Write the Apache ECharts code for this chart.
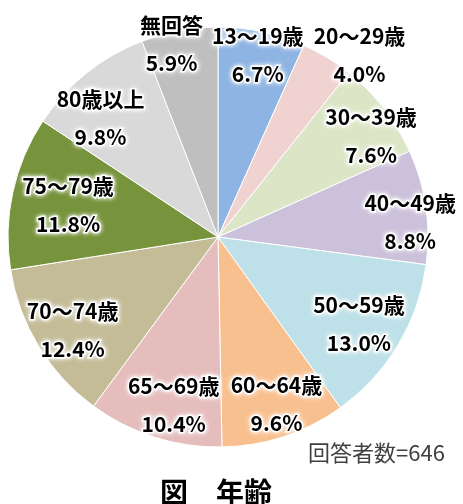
<!DOCTYPE html>
<html>
<head>
<meta charset="utf-8">
<script src="https://cdn.jsdelivr.net/npm/echarts@6/dist/echarts.min.js"></script>
<style>
  html, body { margin: 0; padding: 0; background: #fff; }
  #chart { width: 463px; height: 504px; }
</style>
</head>
<body>
<div id="chart"></div>
<script>
var ageGroups = ['13～19歳', '20～29歳', '30～39歳', '40～49歳', '50～59歳', '60～64歳',
                 '65～69歳', '70～74歳', '75～79歳', '80歳以上', '無回答'];
var shares = [6.7, 4.0, 7.6, 8.8, 13.0, 9.6, 10.4, 12.4, 11.8, 9.8, 5.9];
var sliceColors = ['#8EB4E3', '#F0D2D1', '#DCE6C6', '#CCC1DA', '#BEE0E8', '#F9C08F',
                   '#E6BDBD', '#C4BC97', '#77933C', '#D9D9D9', '#BFBFBF'];
var respondents = 646;

// hand nudges of the labels (px), same order as ageGroups
var labelNudge = [[3, -10], [50, -32], [14, 7], [18, 10], [-10, -4], [3, 0],
                  [9, 0], [5, 2], [22, 5], [-7, 18], [-14, -20]];

var fontCJK = '"Noto Sans CJK JP", "Noto Sans", sans-serif';

var chart = echarts.init(document.getElementById('chart'));

var sliceData = ageGroups.map(function (name, i) {
    return { name: name, value: shares[i], itemStyle: { color: sliceColors[i] } };
});
var labelData = ageGroups.map(function (name, i) {
    return { name: name, value: shares[i] };
});

var option = {
    animation: false,
    title: [
        {
            text: '図　年齢',
            left: 155,
            top: 473,
            textStyle: { fontFamily: fontCJK, fontSize: 28, fontWeight: 'bold', color: '#000' }
        },
        {
            text: '回答者数=' + respondents,
            left: 303,
            top: 437,
            textStyle: { fontFamily: fontCJK, fontSize: 22, fontWeight: 'normal', color: '#404040' }
        }
    ],
    series: [
        {
            type: 'pie',
            center: [218, 237],
            radius: [0, 210],
            startAngle: 90,
            clockwise: true,
            silent: true,
            label: { show: false },
            labelLine: { show: false },
            itemStyle: { borderColor: '#fff', borderWidth: 1 },
            data: sliceData
        },
        {
            // transparent ring: only carries the labels near the rim
            type: 'pie',
            center: [218, 237],
            radius: [136, 210],
            startAngle: 90,
            clockwise: true,
            silent: true,
            avoidLabelOverlap: false,
            itemStyle: { color: 'rgba(0,0,0,0)' },
            labelLine: { show: false },
            label: {
                show: true,
                position: 'inside',
                formatter: function (p) {
                    return p.name + '\n' + p.value.toFixed(1) + '%';
                },
                fontFamily: fontCJK,
                fontSize: 21,
                fontWeight: 'bold',
                lineHeight: 38,
                color: '#000',
                textBorderColor: '#fff',
                textBorderWidth: 3,
                textShadowColor: '#fff',
                textShadowBlur: 5
            },
            labelLayout: function (p) {
                var n = labelNudge[p.dataIndex];
                return { dx: n[0], dy: n[1] };
            },
            data: labelData
        }
    ]
};

chart.setOption(option);
</script>
</body>
</html>
